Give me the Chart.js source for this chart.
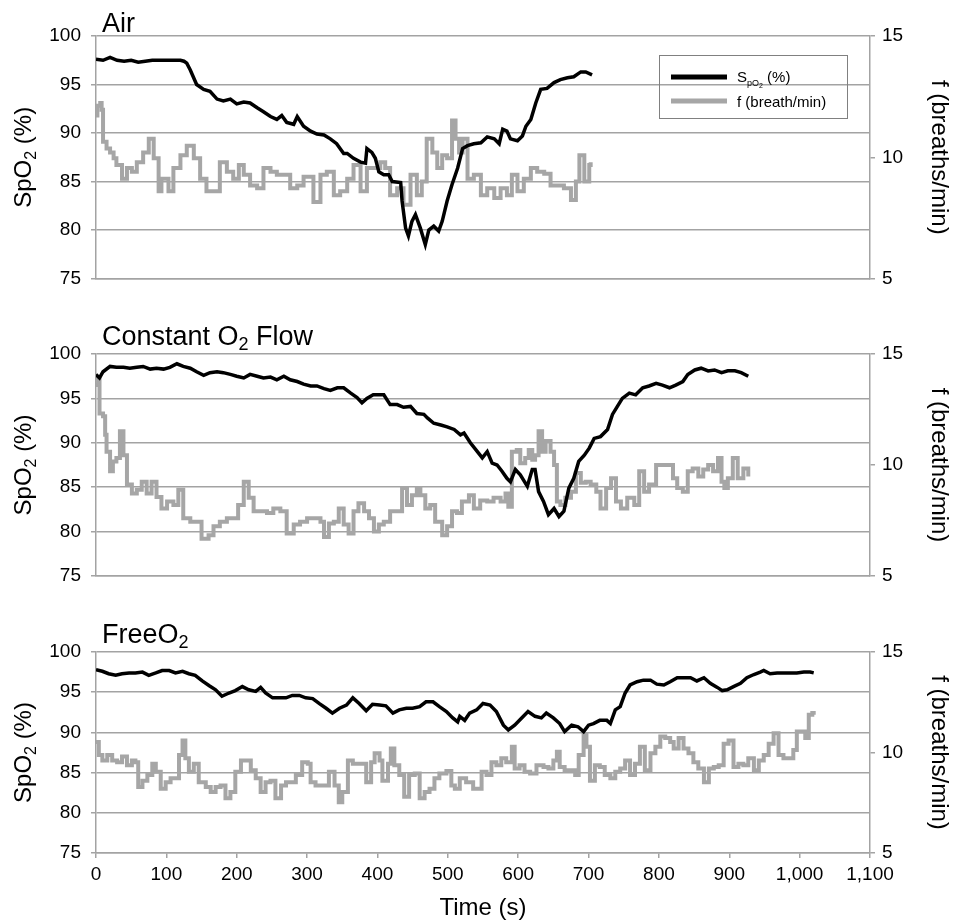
<!DOCTYPE html>
<html>
<head>
<meta charset="utf-8">
<script src="https://cdn.jsdelivr.net/npm/chart.js@4.4.1/dist/chart.umd.min.js"></script>
<style>
  body { margin: 0; background: #fff; }
  #wrap { position: relative; width: 954px; height: 920px; }
  canvas { position: absolute; left: 0; }
</style>
</head>
<body>
<div id="wrap">
  <canvas id="air" width="954" height="300" style="top:0"></canvas>
  <canvas id="flow" width="954" height="300" style="top:300px"></canvas>
  <canvas id="free" width="954" height="320" style="top:600px"></canvas>
</div>
<script>
// [time (s), SpO2 (%)] and [time (s), f (breaths/min)]
var airSpo2 = [[0,97.6],[10,97.5],[20,97.8],[30,97.5],[40,97.4],[50,97.5],[60,97.3],[70,97.4],[80,97.5],[90,97.5],
  [100,97.5],[110,97.5],[120,97.5],[125,97.4],[129,97.2],[134,96.5],[143,95.0],[153,94.5],[162,94.3],[172,93.5],
  [181,93.3],[191,93.5],[200,93.0],[210,93.2],[219,93.1],[229,92.6],[238,92.2],[248,91.7],[257,91.4],[264,91.8],
  [271,91.1],[281,90.9],[286,91.7],[295,90.7],[305,90.2],[314,89.9],[324,89.8],[333,89.4],[342,88.9],[352,87.9],
  [357,87.9],[366,87.4],[376,87.0],[383,86.9],[385,88.4],[392,88.0],[397,87.4],[402,86.0],[409,85.7],[416,85.7],
  [421,85.0],[433,84.9],[435,83.0],[440,80.2],[444,79.4],[449,80.9],[454,81.6],[461,80.2],[468,78.5],[473,80.0],
  [480,80.4],[487,79.9],[492,80.9],[499,83.0],[506,84.7],[514,86.4],[521,88.4],[528,88.7],[537,88.9],[547,89.0],
  [556,89.6],[566,89.4],[573,88.9],[578,90.4],[584,90.2],[589,89.4],[599,89.2],[606,89.7],[611,90.7],[618,91.4],
  [625,93.1],[632,94.5],[641,94.6],[651,95.2],[660,95.5],[670,95.7],[679,95.8],[689,96.3],[696,96.3],[705,96.0]];
var airRate = [[0,11.72],[2,12.12],[6,12.24],[8,11.96],[10,10.64],[15,10.36],[20,10.2],[25,9.96],[29,9.68],[37,9.12],
  [44,9.56],[51,9.4],[58,9.8],[67,10.2],[75,10.76],[82,9.96],[89,8.6],[93,9.12],[103,8.6],[110,9.56],
  [120,10.08],[129,10.48],[139,9.96],[148,9.12],[157,8.6],[167,8.6],[176,9.8],[186,9.4],[195,9.12],[203,9.68],
  [210,9.28],[219,8.84],[229,8.72],[238,9.56],[248,9.4],[257,9.28],[266,9.28],[276,8.72],[286,8.84],[295,9.2],
  [309,8.16],[319,9.28],[328,9.4],[338,8.44],[347,8.6],[357,9.12],[366,9.68],[376,8.6],[385,9.56],[395,9.56],
  [404,9.8],[411,9.56],[418,8.44],[428,8.72],[437,8.04],[447,9.28],[456,8.44],[463,9.0],[470,10.76],[478,10.2],
  [485,9.56],[492,10.08],[499,9.96],[506,11.52],[511,10.76],[516,10.2],[521,10.76],[528,9.12],[537,9.28],[547,8.44],
  [556,8.72],[566,8.32],[575,8.72],[584,8.44],[591,9.28],[599,8.6],[608,9.12],[618,9.56],[627,9.4],[637,9.32],
  [646,8.84],[656,8.84],[665,8.72],[675,8.24],[682,9.0],[687,10.08],[694,9.0],[701,9.68],[703,9.8]];

var flowSpo2 = [[0,97.7],[5,97.3],[10,98.0],[20,98.6],[29,98.5],[39,98.5],[48,98.4],[58,98.5],[67,98.6],[77,98.3],
  [86,98.4],[96,98.3],[105,98.5],[115,98.9],[124,98.6],[134,98.4],[143,98.0],[153,97.6],[162,97.9],[172,98.0],
  [181,97.9],[191,97.7],[200,97.5],[210,97.3],[219,97.7],[229,97.5],[238,97.3],[248,97.4],[257,97.1],[267,97.5],
  [276,97.1],[286,96.9],[295,96.6],[305,96.4],[314,96.4],[324,96.1],[333,95.9],[343,96.2],[352,96.2],[362,95.6],
  [371,95.1],[378,94.5],[385,95.0],[394,95.4],[404,95.4],[409,95.4],[418,94.3],[428,94.3],[437,94.0],[447,94.1],
  [456,93.3],[466,93.2],[471,92.8],[480,92.2],[490,92.0],[499,91.8],[509,91.5],[518,90.9],[523,91.1],[532,90.0],
  [542,89.0],[549,88.3],[556,89.0],[563,87.7],[570,87.5],[577,86.8],[584,86.0],[589,85.6],[596,87.0],[603,86.4],
  [613,85.1],[620,87.0],[624,87.0],[629,84.5],[636,83.4],[643,81.9],[651,82.6],[658,81.7],[665,82.3],[672,84.9],
  [679,86.0],[686,87.9],[694,88.6],[701,89.4],[708,90.5],[717,90.7],[727,91.5],[734,93.2],[741,94.1],[748,95.0],
  [758,95.6],[767,95.4],[777,96.2],[786,96.4],[796,96.7],[805,96.5],[815,96.2],[824,96.5],[834,96.9],[841,97.7],
  [851,98.2],[860,98.4],[870,98.1],[879,98.2],[889,97.9],[898,98.1],[908,98.1],[917,97.9],[927,97.5]];
var flowRate = [[0,13.6],[3,13.92],[5,12.32],[10,12.2],[13,11.36],[15,10.6],[20,9.72],[24,10.16],[29,10.32],[34,11.52],
  [39,10.44],[44,9.12],[51,8.72],[58,8.88],[65,9.24],[72,8.72],[79,9.24],[86,8.56],[93,8.04],[101,8.36],
  [110,8.2],[117,8.88],[124,7.6],[134,7.44],[143,7.44],[150,6.68],[160,6.84],[167,7.24],[176,7.44],[186,7.6],
  [195,7.6],[202,8.2],[210,9.24],[217,8.52],[224,7.92],[234,7.92],[243,7.84],[252,8.04],[262,7.92],[271,6.92],
  [281,7.32],[290,7.44],[300,7.6],[309,7.6],[319,7.44],[324,6.76],[331,7.36],[338,7.44],[345,8.04],[352,7.32],
  [359,6.92],[366,7.92],[373,8.28],[381,7.92],[388,7.6],[395,7.0],[402,7.32],[409,7.44],[418,7.92],[428,7.92],
  [435,8.96],[442,8.2],[449,8.64],[456,8.96],[461,8.64],[468,8.04],[475,8.2],[482,7.44],[492,6.84],[499,7.24],
  [506,7.92],[513,7.84],[520,8.36],[530,8.64],[537,8.04],[546,8.4],[556,8.36],[565,8.52],[575,8.36],[582,8.72],
  [586,8.12],[591,10.6],[598,10.68],[603,10.08],[610,10.32],[615,10.68],[620,10.24],[624,10.44],[629,11.52],[634,10.6],
  [639,11.08],[646,10.6],[651,10.0],[655,8.36],[660,8.2],[667,8.52],[675,8.8],[682,9.64],[689,9.2],[696,9.24],
  [703,9.12],[711,8.8],[717,8.04],[725,8.96],[732,9.4],[739,8.36],[746,8.04],[755,8.52],[765,8.2],[772,9.72],
  [779,8.8],[786,9.12],[796,10.0],[803,10.0],[812,10.0],[820,9.4],[826,8.96],[834,8.8],[841,9.72],[848,9.84],
  [856,9.48],[863,9.8],[870,10.0],[877,9.72],[884,10.32],[889,9.24],[893,8.96],[898,9.4],[905,10.32],[912,9.4],
  [920,9.84],[927,9.48]];

var freeSpo2 = [[0,97.8],[9,97.6],[18,97.3],[28,97.1],[37,97.3],[47,97.4],[56,97.4],[66,97.5],[75,97.1],[85,97.4],
  [94,97.7],[104,97.7],[113,97.4],[123,97.6],[132,97.3],[141,97.1],[151,96.4],[161,95.8],[170,95.3],[179,94.5],
  [189,94.9],[198,95.2],[208,95.7],[217,95.3],[227,95.1],[234,95.6],[241,94.9],[251,94.3],[260,94.3],[270,94.3],
  [279,94.6],[289,94.6],[298,94.3],[308,94.2],[317,93.6],[327,93.0],[336,92.4],[346,93.0],[356,93.4],[365,94.3],
  [374,93.6],[384,92.7],[393,93.5],[403,93.4],[412,93.3],[422,92.4],[431,92.8],[441,93.0],[450,93.0],[460,93.2],
  [469,93.8],[479,93.8],[488,93.2],[498,92.6],[507,91.8],[514,91.3],[517,92.0],[524,91.5],[531,92.4],[541,92.8],
  [550,93.6],[560,93.4],[569,92.6],[579,90.9],[586,90.3],[595,90.9],[605,91.8],[614,92.6],[624,92.0],[633,91.8],
  [640,92.4],[650,91.8],[659,91.1],[666,90.1],[676,90.9],[685,90.7],[693,90.1],[700,90.9],[707,91.1],[716,91.5],
  [726,91.5],[731,91.1],[738,92.8],[745,93.2],[752,94.9],[759,95.9],[769,96.3],[778,96.5],[788,96.5],[797,96.0],
  [807,95.9],[816,96.3],[826,96.8],[835,96.8],[845,96.8],[854,96.4],[864,96.8],[873,96.1],[883,95.6],[890,95.2],
  [897,95.3],[906,95.7],[916,96.1],[925,96.8],[935,97.2],[944,97.5],[949,97.7],[958,97.3],[968,97.4],[977,97.4],
  [987,97.4],[996,97.4],[1006,97.5],[1015,97.5],[1020,97.4]];
var freeRate = [[0,10.52],[4,9.88],[9,9.6],[16,9.88],[23,9.6],[30,9.52],[37,9.8],[44,9.36],[51,9.6],[56,9.52],
  [60,8.28],[66,8.6],[73,8.88],[80,9.44],[85,9.04],[92,8.2],[99,8.52],[106,8.72],[113,8.72],[118,9.88],
  [123,10.6],[127,9.72],[132,9.04],[139,9.44],[146,8.52],[156,8.28],[163,8.04],[170,8.28],[177,8.36],[184,7.72],
  [191,8.04],[198,9.04],[206,9.6],[213,9.6],[220,9.12],[227,8.72],[234,8.04],[241,8.52],[248,8.6],[255,7.72],
  [263,8.36],[270,8.52],[277,8.52],[284,8.88],[293,9.52],[301,9.44],[305,8.52],[312,8.36],[320,8.36],[327,8.36],
  [331,9.04],[339,8.36],[345,7.52],[350,8.04],[358,9.6],[365,9.44],[372,9.44],[379,9.44],[384,8.52],[391,9.52],
  [396,9.96],[403,9.6],[407,8.6],[415,9.44],[419,10.2],[424,9.36],[431,8.88],[438,7.8],[445,8.88],[453,8.96],
  [460,7.72],[467,8.04],[474,8.2],[481,8.72],[488,8.96],[498,9.08],[505,8.36],[510,8.2],[517,8.72],[526,8.52],
  [536,8.2],[543,8.2],[548,9.04],[555,8.88],[562,9.52],[569,9.36],[576,9.72],[583,9.52],[591,10.28],[595,9.2],
  [602,9.36],[609,9.04],[617,8.96],[626,9.36],[636,9.28],[643,9.2],[650,9.6],[655,10.04],[659,9.28],[666,9.12],
  [674,9.12],[681,8.88],[686,9.88],[693,10.88],[697,10.28],[702,8.6],[709,9.36],[716,9.28],[723,8.88],[731,8.72],
  [738,9.04],[745,9.2],[752,9.6],[759,8.88],[766,9.44],[773,10.28],[780,9.12],[788,9.96],[795,10.28],[802,10.8],
  [809,10.72],[816,10.52],[821,10.2],[828,10.72],[835,10.2],[842,9.96],[849,9.52],[856,9.2],[864,8.52],[871,9.2],
  [878,9.28],[885,9.36],[892,10.44],[899,10.6],[906,9.28],[913,9.44],[920,9.36],[927,9.72],[935,9.12],[942,9.6],
  [949,9.88],[956,10.44],[963,10.96],[970,9.88],[977,9.72],[984,9.72],[991,10.12],[996,11.04],[1003,11.04],[1008,10.72],
  [1013,11.88],[1018,11.96],[1020,11.88]];

var FONT = "'Liberation Sans', Arial, sans-serif";
var BLACK = '#000000';
var GRAY = '#a6a6a6';
var GRID = '#a3a3a3';

Chart.defaults.font.family = FONT;
Chart.defaults.color = '#000';

// text pieces; s = size factor, dy = shift down (in em)
var spo2Title = [{t: 'SpO'}, {t: '2', s: 0.65, dy: 0.2}, {t: ' (%)'}];
var rateTitle = [{t: 'f (breaths/min)'}];
var legendSpo2 = [{t: 'S'}, {t: 'pO', s: 0.62, dy: 0.25}, {t: '2', s: 0.45, dy: 0.42}, {t: ' (%)'}];

function pairs(a) {
  return a.map(function (p) { return { x: p[0], y: p[1] }; });
}

function richWidth(ctx, segs, size) {
  var w = 0;
  segs.forEach(function (sg) {
    ctx.font = Math.round(size * (sg.s || 1)) + 'px ' + FONT;
    w += ctx.measureText(sg.t).width;
  });
  return w;
}

function drawRich(ctx, x, y, segs, size) {
  segs.forEach(function (sg) {
    ctx.font = Math.round(size * (sg.s || 1)) + 'px ' + FONT;
    ctx.fillText(sg.t, x, y + (sg.dy || 0) * size);
    x += ctx.measureText(sg.t).width;
  });
}

function textPlugin(o) {
  return {
    id: 'panelText',
    afterDraw: function (chart) {
      var ctx = chart.ctx, a = chart.chartArea;
      var cy = (a.top + a.bottom) / 2;
      ctx.save();
      ctx.fillStyle = '#000';
      ctx.textAlign = 'left';
      ctx.textBaseline = 'alphabetic';
      drawRich(ctx, a.left + 6, o.titleY, o.title, 27);

      ctx.save();
      ctx.translate(31, cy);
      ctx.rotate(-Math.PI / 2);
      drawRich(ctx, -richWidth(ctx, spo2Title, 24) / 2, 0, spo2Title, 24);
      ctx.restore();

      ctx.save();
      ctx.translate(932, cy);
      ctx.rotate(Math.PI / 2);
      drawRich(ctx, -richWidth(ctx, rateTitle, 24) / 2, 0, rateTitle, 24);
      ctx.restore();

      if (o.xTitle) {
        var xt = [{t: 'Time (s)'}];
        drawRich(ctx, (a.left + a.right) / 2 - richWidth(ctx, xt, 24) / 2, o.xTitleY, xt, 24);
      }

      if (o.legend) {
        ctx.strokeStyle = '#808080';
        ctx.lineWidth = 1;
        ctx.strokeRect(659.5, 55.5, 188, 63);
        ctx.lineWidth = 5;
        ctx.strokeStyle = BLACK;
        ctx.beginPath(); ctx.moveTo(671, 77); ctx.lineTo(727, 77); ctx.stroke();
        ctx.strokeStyle = GRAY;
        ctx.beginPath(); ctx.moveTo(671, 101); ctx.lineTo(727, 101); ctx.stroke();
        drawRich(ctx, 737, 82, legendSpo2, 15);
        drawRich(ctx, 737, 107, [{t: 'f (breath/min)'}], 15);
      }
      ctx.restore();
    }
  };
}

function panel(id, o) {
  var el = document.getElementById(id);
  var H = el.height;
  return new Chart(el, {
    type: 'line',
    data: {
      datasets: [{
        label: 'SpO2 (%)',
        data: pairs(o.spo2),
        borderColor: BLACK,
        borderWidth: 3.5,
        yAxisID: 'y'
      }, {
        label: 'f (breath/min)',
        data: pairs(o.rate),
        borderColor: GRAY,
        borderWidth: 4,
        stepped: true,
        yAxisID: 'y1'
      }]
    },
    options: {
      responsive: false,
      animation: false,
      layout: { padding: { top: o.top, left: 0, right: 0, bottom: 0 } },
      elements: { point: { radius: 0 }, line: { tension: 0 } },
      plugins: { legend: { display: false }, tooltip: { enabled: false } },
      scales: {
        x: {
          type: 'linear', min: 0, max: 1100,
          ticks: { display: !!o.xTitle, stepSize: 100, autoSkip: false, maxRotation: 0, padding: 5, font: { size: 19 }, color: '#000' },
          grid: { drawOnChartArea: false, drawTicks: !!o.xTitle, tickLength: 5, color: GRID, lineWidth: 1.5 },
          border: { color: GRID, width: 1.5 },
          afterFit: function (s) { s.height = H - o.bottom; }
        },
        y: {
          position: 'left', min: 75, max: 100,
          ticks: { stepSize: 5, padding: 10, font: { size: 19 }, color: '#000' },
          grid: { color: GRID, lineWidth: 1.5, tickLength: 5 },
          border: { color: GRID, width: 1.5 },
          afterFit: function (s) { s.width = 96; }
        },
        y1: {
          position: 'right', min: 5, max: 15,
          ticks: { stepSize: 5, padding: 7, font: { size: 19 }, color: '#000' },
          grid: { drawOnChartArea: false, tickLength: 5, color: GRID, lineWidth: 1.5 },
          border: { color: GRID, width: 1.5 },
          afterFit: function (s) { s.width = 84; }
        }
      }
    },
    plugins: [textPlugin(o)]
  });
}

panel('air', {
  spo2: airSpo2, rate: airRate, top: 36, bottom: 282, titleY: 32,
  title: [{t: 'Air'}], legend: true
});
panel('flow', {
  spo2: flowSpo2, rate: flowRate, top: 54, bottom: 276, titleY: 45,
  title: [{t: 'Constant O'}, {t: '2', s: 0.65, dy: 0.19}, {t: ' Flow'}]
});
panel('free', {
  spo2: freeSpo2, rate: freeRate, top: 52, bottom: 253, titleY: 43,
  title: [{t: 'FreeO'}, {t: '2', s: 0.65, dy: 0.19}],
  xTitle: true, xTitleY: 315
});
</script>
</body>
</html>
